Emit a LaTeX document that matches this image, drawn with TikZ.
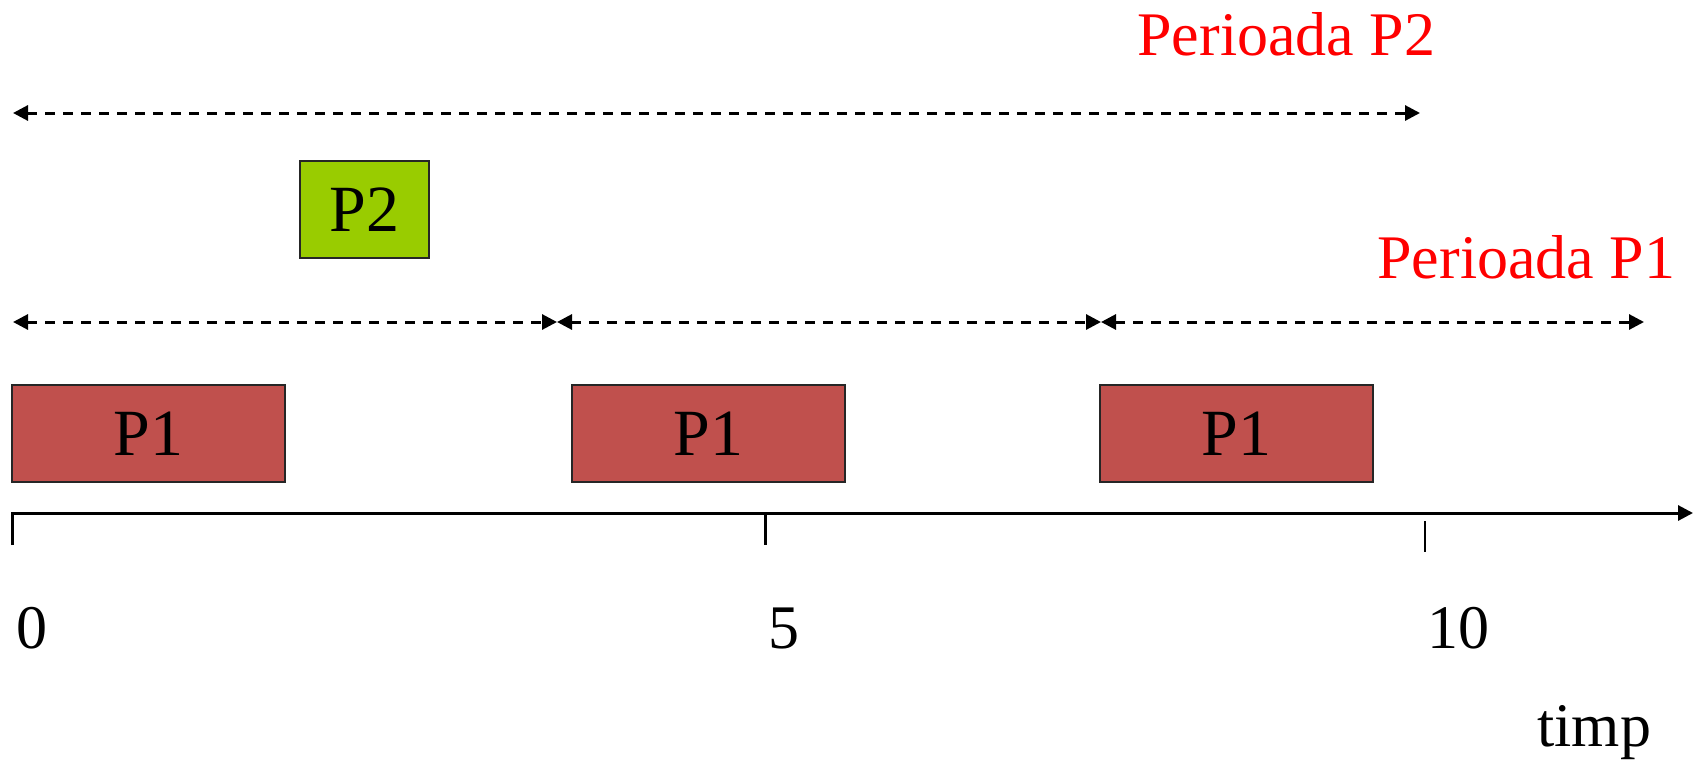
\documentclass[tikz,border=0pt]{standalone}
\usepackage{fontspec}
\setmainfont{Liberation Serif}
\usetikzlibrary{arrows.meta}
\definecolor{pred}{HTML}{C0504D}
\definecolor{pgreen}{HTML}{99CC00}
\definecolor{lblred}{HTML}{FF0000}
\begin{document}
\begin{tikzpicture}[x=0.5pt,y=-0.5pt,
  task/.style={draw=black!85,line width=0.75pt,inner sep=0pt,font=\fontsize{33}{38}\selectfont},
  period/.style={dash pattern=on 5pt off 4pt,line width=1.5pt,{Triangle[length=7.5pt,width=7.5pt]}-{Triangle[length=7.5pt,width=7.5pt]},shorten <=0pt,shorten >=0pt},
  axisline/.style={line width=1.5pt},
  lbl/.style={inner sep=0pt,font=\fontsize{31}{36}\selectfont},
  redlbl/.style={lbl,text=lblred}]
\useasboundingbox (0,0) rectangle (1700,760);
% task boxes
\node[task,fill=pred,minimum width=136.5pt,minimum height=48.5pt] (a1) at (148.5,433.5) {P1};
\node[task,fill=pred,minimum width=136.5pt,minimum height=48.5pt] (a2) at (708.5,433.5) {P1};
\node[task,fill=pred,minimum width=136.5pt,minimum height=48.5pt] (a3) at (1236.5,433.5) {P1};
\node[task,fill=pgreen,minimum width=64.5pt,minimum height=48.5pt] (b1) at (364.5,209.5) {P2};
% period arrows
\coordinate (q0) at (13,113);
\coordinate (q1) at (1420,113);
\draw[period] (q0) -- (q1);
\coordinate (p0) at (13,322);
\coordinate (p1) at (557,322);
\coordinate (p2) at (1101,322);
\coordinate (p3) at (1644,322);
\draw[period] (p0) -- (p1);
\draw[period] (p1) -- (p2);
\draw[period] (p2) -- (p3);
% axis
\coordinate (t0) at (12,545);
\coordinate (o) at (12,513);
\coordinate (ax) at (1693,513);
\draw[axisline,-{Triangle[length=7.5pt,width=7.5pt]}] (t0) -- (o) -- (ax);
\coordinate (t5a) at (765,513);
\coordinate (t5b) at (765,545);
\draw[axisline] (t5a) -- (t5b);
\coordinate (t10a) at (1425,521);
\coordinate (t10b) at (1425,552);
\draw[line width=1pt] (t10a) -- (t10b);
% labels
\node[lbl,anchor=base] (l0) at (32,648) {0};
\node[lbl,anchor=base] (l5) at (784,648) {5};
\node[lbl,anchor=base] (l10) at (1458,648) {10};
\node[lbl,anchor=base west] (lt) at (1537,746) {timp};
\node[redlbl,anchor=base west] (lp2) at (1137,55) {Perioada P2};
\node[redlbl,anchor=base west] (lp1) at (1377,278) {Perioada P1};
\end{tikzpicture}
\end{document}
